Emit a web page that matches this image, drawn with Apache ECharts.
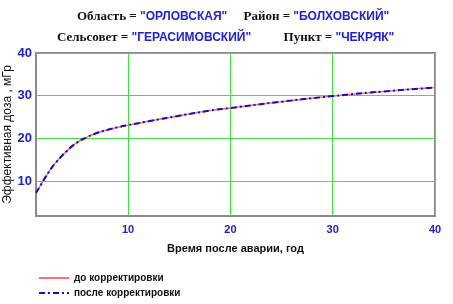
<!DOCTYPE html>
<html><head><meta charset="utf-8">
<script src="https://cdn.jsdelivr.net/npm/echarts@6/dist/echarts.min.js"></script>
<style>html,body{margin:0;padding:0;background:#fff}#c{width:453px;height:304px}</style>
</head><body><div id="c"></div>
<script>
var years = [1, 1.5, 2, 2.5, 3, 4, 5, 6, 7, 8, 9, 10, 12, 15, 18, 20, 25, 30, 35, 40];
var doseBefore = [7.2, 9.2, 11.2, 13.0, 14.5, 17.0, 19.0, 20.3, 21.3, 22.0, 22.6, 23.1, 24.0, 25.3, 26.5, 27.1, 28.6, 29.9, 31.0, 31.9];
var doseAfter = [7.2, 9.2, 11.2, 13.0, 14.5, 17.0, 19.0, 20.3, 21.3, 22.0, 22.6, 23.1, 24.0, 25.3, 26.5, 27.1, 28.6, 29.9, 31.0, 31.9];
var xTicks = [10, 20, 30, 40];
var yTicks = [10, 20, 30, 40];
var names = ['до корректировки', 'после корректировки'];

var chart = echarts.init(document.getElementById('c'), null, {renderer: 'canvas'});
var rich = {
  k: {fontFamily: 'Liberation Serif', fontWeight: 'bold', fontSize: 13, color: '#111'},
  v: {fontFamily: 'Liberation Sans', fontWeight: 'bold', fontSize: 12, color: '#2020e0'}
};
function pairs(a, b) { return a.map(function (x, i) { return [x, b[i]]; }); }
chart.setOption({
  animation: false,
  title: [
    {text: '{k|Область = }{v|"ОРЛОВСКАЯ"}{k|     Район = }{v|"БОЛХОВСКИЙ"}', left: 72, top: 5, textStyle: {rich: rich}},
    {text: '{k|Сельсовет = }{v|"ГЕРАСИМОВСКИЙ"}{k|          Пункт = }{v|"ЧЕКРЯК"}', left: 52, top: 26, textStyle: {rich: rich}}
  ],
  grid: {left: 36, right: 18, top: 53, bottom: 88, outerBoundsMode: 'none', containLabel: false, show: true, borderColor: '#8a8a8a', borderWidth: 2, backgroundColor: 'transparent'},
  xAxis: {
    type: 'value', min: 1, max: 40,
    name: 'Время после аварии, год', nameLocation: 'middle', nameGap: 27, nameMoveOverlap: false,
    nameTextStyle: {fontFamily: 'Liberation Sans', fontWeight: 'bold', fontSize: 11, color: '#111'},
    axisLine: {show: false}, axisTick: {show: false, customValues: xTicks},
    axisLabel: {customValues: xTicks, color: '#2020d0', fontWeight: 'bold', fontFamily: 'Liberation Sans', fontSize: 11, margin: 8},
    splitLine: {show: true, lineStyle: {color: '#44e044', width: 1}}
  },
  yAxis: {
    type: 'value', min: 1.8, max: 40,
    name: 'Эффективная доза , мГр', nameLocation: 'middle', nameGap: 22, nameMoveOverlap: false,
    nameTextStyle: {fontFamily: 'Liberation Sans', fontSize: 12, color: '#111'},
    axisLine: {show: false}, axisTick: {show: false, customValues: yTicks},
    axisLabel: {customValues: yTicks, color: '#2020d0', fontWeight: 'bold', fontFamily: 'Liberation Sans', fontSize: 13, margin: 4},
    splitLine: {show: true, lineStyle: {color: '#44e044', width: 1}}
  },
  legend: {
    orient: 'vertical', left: 33, top: 268, itemWidth: 30, itemHeight: 10, itemGap: 5,
    itemStyle: {opacity: 0},
    textStyle: {fontFamily: 'Liberation Sans', fontWeight: 'bold', fontSize: 10, color: '#111'},
    data: names
  },
  series: [
    {name: names[0], type: 'line', data: pairs(years, doseBefore), smooth: true, symbol: 'none',
     lineStyle: {color: '#ff7070', width: 1.5, type: 'solid'}, itemStyle: {color: '#ff7070'}},
    {name: names[1], type: 'line', data: pairs(years, doseAfter), smooth: true, symbol: 'none',
     lineStyle: {color: '#1010c0', width: 2, type: [6, 3, 2, 3]}, itemStyle: {color: '#1010c0'}}
  ]
});
</script></body></html>
